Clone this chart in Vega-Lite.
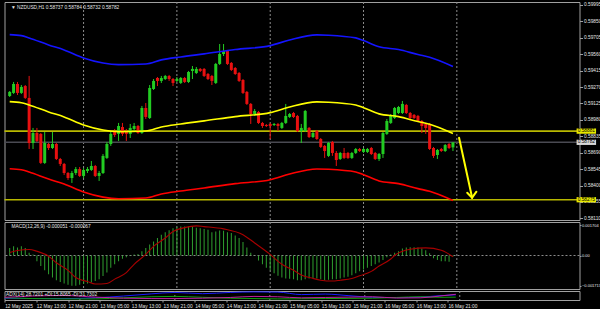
{
"$schema":"https://vega.github.io/schema/vega-lite/v6.json",
"background":"#000000",
"padding":{"left":1.5,"top":1,"right":0,"bottom":0},
"spacing":2,
"bounds":"flush",
"config":{"view":{"stroke":"#a0a0a0","strokeWidth":1},
"axis":{"labelFont":"Liberation Sans","labelFontSize":4.8,"labelColor":"#e6e6e6","tickColor":"#a0a0a0","domain":false,"grid":false,"title":null,"labelOverlap":false,"labelFlush":false,"labelBound":false,"tickCount":100},
"text":{"font":"Liberation Sans"}},
"datasets":{
"bars":[
{"h":5,"o":0.59191,"hi":0.59235,"lo":0.59182,"c":0.59227,"m":0.00043},
{"h":6,"o":0.59218,"hi":0.59315,"lo":0.59209,"c":0.59297,"m":0.00052},
{"h":7,"o":0.59297,"hi":0.59315,"lo":0.59200,"c":0.59218,"m":0.00046},
{"h":8,"o":0.59218,"hi":0.59288,"lo":0.59209,"c":0.59271,"m":0.00052},
{"h":9,"o":0.59279,"hi":0.59288,"lo":0.59165,"c":0.59174,"m":0.00043},
{"h":10,"o":0.59174,"hi":0.59368,"lo":0.58723,"c":0.58776,"m":0.00015},
{"h":11,"o":0.58776,"hi":0.58909,"lo":0.58723,"c":0.58864,"m":0.00006},
{"h":12,"o":0.58864,"hi":0.58909,"lo":0.58785,"c":0.58794,"m":-0.00032},
{"h":13,"o":0.58856,"hi":0.58864,"lo":0.58591,"c":0.58600,"m":-0.0006},
{"h":14,"o":0.58600,"hi":0.58873,"lo":0.58591,"c":0.58776,"m":-0.00084},
{"h":15,"o":0.58767,"hi":0.58776,"lo":0.58714,"c":0.58732,"m":-0.00106},
{"h":16,"o":0.58732,"hi":0.58873,"lo":0.58723,"c":0.58767,"m":-0.00125},
{"h":17,"o":0.58767,"hi":0.58776,"lo":0.58626,"c":0.58635,"m":-0.0014},
{"h":18,"o":0.58635,"hi":0.58644,"lo":0.58573,"c":0.58591,"m":-0.0015},
{"h":19,"o":0.58591,"hi":0.58600,"lo":0.58494,"c":0.58511,"m":-0.00159},
{"h":20,"o":0.58511,"hi":0.58520,"lo":0.58450,"c":0.58467,"m":-0.00166},
{"h":21,"o":0.58467,"hi":0.58529,"lo":0.58423,"c":0.58511,"m":-0.00172},
{"h":22,"o":0.58511,"hi":0.58564,"lo":0.58494,"c":0.58546,"m":-0.00172},
{"h":23,"o":0.58546,"hi":0.58564,"lo":0.58476,"c":0.58485,"m":-0.00166},
{"h":24,"o":0.58485,"hi":0.58555,"lo":0.58467,"c":0.58538,"m":-0.00162},
{"h":25,"o":0.58529,"hi":0.58564,"lo":0.58511,"c":0.58546,"m":-0.00159},
{"h":26,"o":0.58538,"hi":0.58617,"lo":0.58529,"c":0.58573,"m":-0.00153},
{"h":27,"o":0.58573,"hi":0.58582,"lo":0.58476,"c":0.58485,"m":-0.00144},
{"h":28,"o":0.58485,"hi":0.58529,"lo":0.58441,"c":0.58511,"m":-0.00134},
{"h":29,"o":0.58511,"hi":0.58679,"lo":0.58502,"c":0.58662,"m":-0.00116},
{"h":30,"o":0.58644,"hi":0.58785,"lo":0.58635,"c":0.58767,"m":-0.00097},
{"h":31,"o":0.58767,"hi":0.58873,"lo":0.58750,"c":0.58856,"m":-0.00069},
{"h":32,"o":0.58882,"hi":0.58900,"lo":0.58829,"c":0.58847,"m":-0.0005},
{"h":33,"o":0.58856,"hi":0.58953,"lo":0.58794,"c":0.58926,"m":-0.00032},
{"h":34,"o":0.58917,"hi":0.58953,"lo":0.58838,"c":0.58856,"m":-0.00019},
{"h":35,"o":0.58873,"hi":0.58900,"lo":0.58794,"c":0.58856,"m":-0.0001},
{"h":36,"o":0.58856,"hi":0.58944,"lo":0.58820,"c":0.58909,"m":-0.00003},
{"h":37,"o":0.58900,"hi":0.58953,"lo":0.58882,"c":0.58926,"m":0.00006},
{"h":38,"o":0.58926,"hi":0.58935,"lo":0.58856,"c":0.58864,"m":0.00009},
{"h":39,"o":0.58864,"hi":0.59103,"lo":0.58856,"c":0.59085,"m":0.00024},
{"h":40,"o":0.59085,"hi":0.59129,"lo":0.58988,"c":0.59006,"m":0.00043},
{"h":41,"o":0.58997,"hi":0.59288,"lo":0.58988,"c":0.59262,"m":0.00062},
{"h":42,"o":0.59253,"hi":0.59341,"lo":0.59244,"c":0.59324,"m":0.0008},
{"h":43,"o":0.59350,"hi":0.59359,"lo":0.59279,"c":0.59324,"m":0.00099},
{"h":44,"o":0.59324,"hi":0.59368,"lo":0.59306,"c":0.59350,"m":0.00118},
{"h":45,"o":0.59341,"hi":0.59377,"lo":0.59332,"c":0.59368,"m":0.00132},
{"h":46,"o":0.59368,"hi":0.59377,"lo":0.59324,"c":0.59341,"m":0.00143},
{"h":47,"o":0.59341,"hi":0.59350,"lo":0.59279,"c":0.59306,"m":0.00155},
{"h":48,"o":0.59324,"hi":0.59359,"lo":0.59315,"c":0.59341,"m":0.0016},
{"h":49,"o":0.59306,"hi":0.59359,"lo":0.59297,"c":0.59350,"m":0.00164},
{"h":50,"o":0.59350,"hi":0.59359,"lo":0.59306,"c":0.59315,"m":0.00164},
{"h":51,"o":0.59315,"hi":0.59412,"lo":0.59306,"c":0.59403,"m":0.00164},
{"h":52,"o":0.59412,"hi":0.59456,"lo":0.59341,"c":0.59430,"m":0.00164},
{"h":53,"o":0.59394,"hi":0.59447,"lo":0.59385,"c":0.59430,"m":0.00158},
{"h":54,"o":0.59430,"hi":0.59438,"lo":0.59403,"c":0.59412,"m":0.00155},
{"h":55,"o":0.59430,"hi":0.59438,"lo":0.59359,"c":0.59368,"m":0.00151},
{"h":56,"o":0.59385,"hi":0.59394,"lo":0.59332,"c":0.59341,"m":0.00146},
{"h":57,"o":0.59368,"hi":0.59377,"lo":0.59288,"c":0.59324,"m":0.00132},
{"h":58,"o":0.59306,"hi":0.59483,"lo":0.59297,"c":0.59474,"m":0.00136},
{"h":59,"o":0.59474,"hi":0.59650,"lo":0.59465,"c":0.59562,"m":0.00142},
{"h":60,"o":0.59562,"hi":0.59650,"lo":0.59544,"c":0.59589,"m":0.0014},
{"h":61,"o":0.59589,"hi":0.59597,"lo":0.59465,"c":0.59474,"m":0.00132},
{"h":62,"o":0.59483,"hi":0.59491,"lo":0.59412,"c":0.59421,"m":0.00127},
{"h":63,"o":0.59438,"hi":0.59447,"lo":0.59377,"c":0.59385,"m":0.00114},
{"h":64,"o":0.59394,"hi":0.59403,"lo":0.59315,"c":0.59324,"m":0.00099},
{"h":65,"o":0.59332,"hi":0.59341,"lo":0.59209,"c":0.59218,"m":0.00076},
{"h":66,"o":0.59227,"hi":0.59235,"lo":0.59112,"c":0.59121,"m":0.00046},
{"h":67,"o":0.59121,"hi":0.59129,"lo":0.58944,"c":0.59032,"m":0.00015},
{"h":68,"o":0.59032,"hi":0.59076,"lo":0.59015,"c":0.59059,"m":0.00002},
{"h":69,"o":0.59050,"hi":0.59059,"lo":0.58944,"c":0.58953,"m":-0.00028},
{"h":70,"o":0.58953,"hi":0.58962,"lo":0.58909,"c":0.58926,"m":-0.0005},
{"h":71,"o":0.58935,"hi":0.58944,"lo":0.58917,"c":0.58926,"m":-0.00069},
{"h":72,"o":0.58944,"hi":0.58953,"lo":0.58811,"c":0.58926,"m":-0.00084},
{"h":73,"o":0.58935,"hi":0.58953,"lo":0.58926,"c":0.58944,"m":-0.001},
{"h":74,"o":0.58944,"hi":0.58953,"lo":0.58882,"c":0.58926,"m":-0.00115},
{"h":75,"o":0.58909,"hi":0.58962,"lo":0.58900,"c":0.58953,"m":-0.00125},
{"h":76,"o":0.58953,"hi":0.59121,"lo":0.58944,"c":0.59015,"m":-0.0013},
{"h":77,"o":0.59006,"hi":0.59041,"lo":0.58997,"c":0.59032,"m":-0.00132},
{"h":78,"o":0.59041,"hi":0.59050,"lo":0.58997,"c":0.59006,"m":-0.00135},
{"h":79,"o":0.59015,"hi":0.59024,"lo":0.58873,"c":0.58882,"m":-0.0014},
{"h":80,"o":0.58882,"hi":0.58944,"lo":0.58776,"c":0.58909,"m":-0.0014},
{"h":81,"o":0.58882,"hi":0.59068,"lo":0.58873,"c":0.59059,"m":-0.00135},
{"h":82,"o":0.58909,"hi":0.58917,"lo":0.58820,"c":0.58829,"m":-0.0013},
{"h":83,"o":0.58829,"hi":0.58873,"lo":0.58820,"c":0.58864,"m":-0.00128},
{"h":84,"o":0.58882,"hi":0.58891,"lo":0.58803,"c":0.58811,"m":-0.0013},
{"h":85,"o":0.58811,"hi":0.58820,"lo":0.58732,"c":0.58741,"m":-0.00135},
{"h":86,"o":0.58750,"hi":0.58758,"lo":0.58644,"c":0.58705,"m":-0.0014},
{"h":87,"o":0.58662,"hi":0.58785,"lo":0.58653,"c":0.58776,"m":-0.00138},
{"h":88,"o":0.58785,"hi":0.58794,"lo":0.58662,"c":0.58688,"m":-0.00135},
{"h":89,"o":0.58688,"hi":0.58705,"lo":0.58573,"c":0.58626,"m":-0.00135},
{"h":90,"o":0.58635,"hi":0.58697,"lo":0.58626,"c":0.58688,"m":-0.0013},
{"h":91,"o":0.58688,"hi":0.58732,"lo":0.58635,"c":0.58644,"m":-0.00125},
{"h":92,"o":0.58688,"hi":0.58697,"lo":0.58635,"c":0.58644,"m":-0.0012},
{"h":93,"o":0.58644,"hi":0.58697,"lo":0.58635,"c":0.58688,"m":-0.00112},
{"h":94,"o":0.58688,"hi":0.58732,"lo":0.58679,"c":0.58723,"m":-0.001},
{"h":95,"o":0.58723,"hi":0.58732,"lo":0.58697,"c":0.58705,"m":-0.0009},
{"h":96,"o":0.58697,"hi":0.58732,"lo":0.58688,"c":0.58723,"m":-0.0008},
{"h":97,"o":0.58697,"hi":0.58732,"lo":0.58688,"c":0.58723,"m":-0.0007},
{"h":98,"o":0.58732,"hi":0.58741,"lo":0.58670,"c":0.58679,"m":-0.0006},
{"h":99,"o":0.58688,"hi":0.58697,"lo":0.58626,"c":0.58635,"m":-0.0005},
{"h":100,"o":0.58635,"hi":0.58688,"lo":0.58617,"c":0.58679,"m":-0.0004},
{"h":101,"o":0.58679,"hi":0.58873,"lo":0.58644,"c":0.58864,"m":-0.00025},
{"h":102,"o":0.58856,"hi":0.58988,"lo":0.58847,"c":0.58970,"m":-0.0001},
{"h":103,"o":0.58953,"hi":0.59032,"lo":0.58944,"c":0.59015,"m":0.00005},
{"h":104,"o":0.58997,"hi":0.59094,"lo":0.58988,"c":0.59085,"m":0.00015},
{"h":105,"o":0.59041,"hi":0.59103,"lo":0.59032,"c":0.59094,"m":0.00024},
{"h":106,"o":0.59041,"hi":0.59147,"lo":0.59032,"c":0.59121,"m":0.0004},
{"h":107,"o":0.59112,"hi":0.59121,"lo":0.59032,"c":0.59041,"m":0.00045},
{"h":108,"o":0.59041,"hi":0.59050,"lo":0.58988,"c":0.58997,"m":0.00047},
{"h":109,"o":0.59024,"hi":0.59032,"lo":0.58988,"c":0.58997,"m":0.00047},
{"h":110,"o":0.59015,"hi":0.59024,"lo":0.58962,"c":0.58970,"m":0.00045},
{"h":111,"o":0.58970,"hi":0.58979,"lo":0.58864,"c":0.58926,"m":0.0004},
{"h":112,"o":0.58944,"hi":0.58953,"lo":0.58856,"c":0.58909,"m":0.0003},
{"h":113,"o":0.58944,"hi":0.58953,"lo":0.58714,"c":0.58723,"m":0.00013},
{"h":114,"o":0.58732,"hi":0.58741,"lo":0.58644,"c":0.58662,"m":-0.00015},
{"h":115,"o":0.58670,"hi":0.58723,"lo":0.58635,"c":0.58714,"m":-0.00025},
{"h":116,"o":0.58723,"hi":0.58732,"lo":0.58697,"c":0.58705,"m":-0.00032},
{"h":117,"o":0.58705,"hi":0.58767,"lo":0.58697,"c":0.58758,"m":-0.00032},
{"h":118,"o":0.58767,"hi":0.58776,"lo":0.58723,"c":0.58732,"m":-0.00035},
{"h":119,"o":0.58737,"hi":0.58784,"lo":0.58705,"c":0.58782,"m":-0.00005}
],
"ma":[
{"h":5,"mid":0.59141,"up":0.59733,"lo":0.58549},
{"h":8,"mid":0.59132,"up":0.59724,"lo":0.58540},
{"h":10,"mid":0.59112,"up":0.59704,"lo":0.58520},
{"h":15,"mid":0.59050,"up":0.59642,"lo":0.58458},
{"h":19,"mid":0.59006,"up":0.59598,"lo":0.58414},
{"h":24,"mid":0.58935,"up":0.59527,"lo":0.58343},
{"h":29,"mid":0.58890,"up":0.59482,"lo":0.58298},
{"h":33,"mid":0.58876,"up":0.59468,"lo":0.58284},
{"h":40,"mid":0.58882,"up":0.59474,"lo":0.58290},
{"h":44,"mid":0.58918,"up":0.59510,"lo":0.58326},
{"h":49,"mid":0.58944,"up":0.59536,"lo":0.58352},
{"h":55,"mid":0.58971,"up":0.59563,"lo":0.58379},
{"h":63,"mid":0.59009,"up":0.59601,"lo":0.58417},
{"h":72,"mid":0.59044,"up":0.59636,"lo":0.58452},
{"h":77,"mid":0.59094,"up":0.59686,"lo":0.58502},
{"h":84,"mid":0.59139,"up":0.59731,"lo":0.58547},
{"h":87,"mid":0.59136,"up":0.59728,"lo":0.58544},
{"h":94,"mid":0.59112,"up":0.59704,"lo":0.58520},
{"h":96,"mid":0.59088,"up":0.59680,"lo":0.58496},
{"h":100,"mid":0.59033,"up":0.59625,"lo":0.58441},
{"h":105,"mid":0.59009,"up":0.59601,"lo":0.58417},
{"h":110,"mid":0.58965,"up":0.59557,"lo":0.58373},
{"h":113,"mid":0.58942,"up":0.59534,"lo":0.58350},
{"h":119,"mid":0.58860,"up":0.59452,"lo":0.58268}
],
"sig":[
{"h":5,"s":0.00017},{"h":7,"s":0.00028},{"h":10,"s":0.00034},{"h":12,"s":0.00024},{"h":15,"s":-0.00004},{"h":17,"s":-0.00041},{"h":20,"s":-0.00084},{"h":22,"s":-0.00125},{"h":25,"s":-0.00148},{"h":27,"s":-0.00162},{"h":30,"s":-0.00159},{"h":32,"s":-0.00134},{"h":35,"s":-0.00097},{"h":37,"s":-0.0005},{"h":40,"s":0.00006},{"h":42,"s":0.00052},{"h":45,"s":0.00099},{"h":47,"s":0.00136},{"h":50,"s":0.00158},{"h":53,"s":0.00168},{"h":55,"s":0.00164},{"h":60,"s":0.00151},{"h":65,"s":0.00118},{"h":68,"s":0.00071},{"h":72,"s":0.00006},{"h":75,"s":-0.0005},{"h":78,"s":-0.00084},{"h":80,"s":-0.0011},{"h":83,"s":-0.0013},{"h":85,"s":-0.0014},{"h":88,"s":-0.00145},{"h":90,"s":-0.0014},{"h":93,"s":-0.0013},{"h":95,"s":-0.00115},{"h":98,"s":-0.0009},{"h":100,"s":-0.0006},{"h":103,"s":-0.0002},{"h":104,"s":0.0},{"h":108,"s":0.00035},{"h":112,"s":0.00043},{"h":116,"s":0.0003},{"h":119,"s":-0.00007}
],
"adx":[
{"h":5,"a":10,"p":12,"n":15},{"h":12,"a":8,"p":8,"n":22},{"h":20,"a":8,"p":6,"n":25},{"h":28,"a":12,"p":6,"n":16},{"h":35,"a":22,"p":12,"n":10},{"h":42,"a":34,"p":18,"n":8},{"h":48,"a":42,"p":20,"n":8},{"h":55,"a":35,"p":15,"n":10},{"h":62,"a":42,"p":10,"n":14},{"h":68,"a":45,"p":8,"n":20},{"h":74,"a":44,"p":6,"n":18},{"h":80,"a":30,"p":7,"n":12},{"h":86,"a":33,"p":8,"n":14},{"h":92,"a":24,"p":9,"n":16},{"h":98,"a":15,"p":10,"n":18},{"h":104,"a":13,"p":14,"n":11},{"h":110,"a":16,"p":18,"n":12},{"h":115,"a":24,"p":15,"n":22},{"h":119,"a":28.7,"p":15.8,"n":31.7}
]
},
"vconcat":[
{"width":575,"height":218,
"layer":[
{"data":{"values":[{"s":24},{"s":48},{"s":72},{"s":96},{"s":120}]},"mark":{"type":"rule","strokeDash":[2,2],"color":"#8c8c8c","strokeWidth":1},
"encoding":{"x":{"field":"s","type":"quantitative","scale":{"domain":[4.95,150.26],"nice":false,"zero":false},"axis":null}}},
{"data":{"values":[{"p":0.58881},{"p":0.58275}]},"mark":{"type":"rule","color":"#b8b800","strokeWidth":1.6},
"encoding":{"y":{"field":"p","type":"quantitative","scale":{"domain":[0.58096,0.60021],"nice":false,"zero":false},
"axis":{"orient":"right","values":[0.59995,0.5985,0.59705,0.5956,0.59415,0.5927,0.59125,0.5898,0.58835,0.5869,0.58545,0.584,0.58255,0.5811],"tickCount":100,"format":".5f","tickSize":3,"labelPadding":1,"labelOverlap":false,"labelBound":false,"labelFlush":false}}}},
{"data":{"values":[{"p":0.58782}]},"mark":{"type":"rule","color":"#4a4a52","strokeWidth":1.6},
"encoding":{"y":{"field":"p","type":"quantitative"}}},
{"data":{"name":"bars"},"mark":{"type":"rule","strokeWidth":1},
"encoding":{"x":{"field":"h","type":"quantitative"},"y":{"field":"lo","type":"quantitative"},"y2":{"field":"hi"},
"color":{"condition":{"test":"datum.c >= datum.o","value":"#22cc22"},"value":"#e81010"}}},
{"data":{"name":"bars"},"mark":{"type":"bar","size":3},
"encoding":{"x":{"field":"h","type":"quantitative"},"y":{"field":"o","type":"quantitative"},"y2":{"field":"c"},
"color":{"condition":{"test":"datum.c >= datum.o","value":"#22cc22"},"value":"#e81010"}}},
{"data":{"name":"ma"},"mark":{"type":"line","color":"#1414ff","strokeWidth":1.6,"interpolate":"monotone"},
"encoding":{"x":{"field":"h","type":"quantitative"},"y":{"field":"up","type":"quantitative"}}},
{"data":{"name":"ma"},"mark":{"type":"line","color":"#ffff00","strokeWidth":1.6,"interpolate":"monotone"},
"encoding":{"x":{"field":"h","type":"quantitative"},"y":{"field":"mid","type":"quantitative"}}},
{"data":{"name":"ma"},"mark":{"type":"line","color":"#ff0000","strokeWidth":1.6,"interpolate":"monotone"},
"encoding":{"x":{"field":"h","type":"quantitative"},"y":{"field":"lo","type":"quantitative"}}},
{"data":{"values":[{"a":120.57,"b":0.58823,"a2":123.93,"b2":0.58293},{"a":122.67,"b":0.58337,"a2":123.93,"b2":0.58293},{"a":125.04,"b":0.58346,"a2":123.93,"b2":0.58293}]},
"mark":{"type":"rule","color":"#ffff00","strokeWidth":2,"strokeCap":"round"},
"encoding":{"x":{"field":"a","type":"quantitative"},"y":{"field":"b","type":"quantitative"},"x2":{"field":"a2"},"y2":{"field":"b2"}}},
{"data":{"values":[{"p":0.58881},{"p":0.58275}]},"mark":{"type":"point","shape":"M-1,-0.27L1,-0.27L1,0.27L-1,0.27Z","size":380,"filled":true,"color":"#e8e800","opacity":1,"clip":false},
"encoding":{"x":{"datum":153.3},"y":{"field":"p","type":"quantitative"}}},
{"data":{"values":[{"p":0.58782}]},"mark":{"type":"point","shape":"M-1,-0.27L1,-0.27L1,0.27L-1,0.27Z","size":380,"filled":true,"color":"#d8d8d8","opacity":1,"clip":false},
"encoding":{"x":{"datum":153.3},"y":{"field":"p","type":"quantitative"}}},
{"data":{"values":[{"p":0.58881},{"p":0.58275},{"p":0.58782}]},"mark":{"type":"text","fontSize":4.8,"color":"#000000","clip":false,"baseline":"middle","align":"center"},
"encoding":{"x":{"datum":153.3},"y":{"field":"p","type":"quantitative"},"text":{"field":"p","type":"quantitative","format":".5f"}}},
{"data":{"values":[{"t":"▼ NZDUSD,H1  0.58737 0.58784 0.58732 0.58782"}]},"mark":{"type":"text","fontSize":4.8,"color":"#e6e6e6","align":"left","baseline":"top","dx":1.5,"dy":2.5},
"encoding":{"x":{"datum":4.95},"y":{"datum":0.60021},"text":{"field":"t"}}}
]},
{"width":575,"height":67,
"layer":[
{"data":{"values":[{"s":24},{"s":48},{"s":72},{"s":96},{"s":120}]},"mark":{"type":"rule","strokeDash":[2,2],"color":"#8c8c8c","strokeWidth":1},
"encoding":{"x":{"field":"s","type":"quantitative","scale":{"domain":[4.95,150.26],"nice":false,"zero":false},"axis":null}}},
{"data":{"values":[{"z":0}]},"mark":{"type":"rule","strokeDash":[2,2],"color":"#8c8c8c","strokeWidth":1},
"encoding":{"y":{"field":"z","type":"quantitative","scale":{"domain":[-0.0019,0.0019],"nice":false,"zero":false},
"axis":{"orient":"right","values":[0.001704,0,-0.001713],"tickCount":100,"labelExpr":"datum.value == 0 ? '0.00' : format(datum.value, '.6f')","tickSize":1.5,"labelPadding":0.5,"labelFontSize":4,"labelOverlap":false,"labelBound":false,"labelFlush":false}}}},
{"data":{"name":"bars"},"mark":{"type":"bar","size":1,"color":"#2f9f2f"},
"encoding":{"x":{"field":"h","type":"quantitative"},"y":{"field":"m","type":"quantitative"},"y2":{"datum":0}}},
{"data":{"name":"sig"},"mark":{"type":"line","color":"#a80000","strokeWidth":1.1,"interpolate":"monotone"},
"encoding":{"x":{"field":"h","type":"quantitative"},"y":{"field":"s","type":"quantitative"}}},
{"data":{"values":[{"t":"MACD(12,26,9) -0.000051 -0.000067"}]},"mark":{"type":"text","fontSize":4.8,"color":"#e6e6e6","align":"left","baseline":"top","dx":2,"dy":2},
"encoding":{"x":{"datum":4.95},"y":{"datum":0.0019},"text":{"field":"t"}}}
]},
{"width":575,"height":9,
"layer":[
{"data":{"values":[{"s":24},{"s":48},{"s":72},{"s":96},{"s":120}]},"mark":{"type":"rule","strokeDash":[2,2],"color":"#8c8c8c","strokeWidth":1},
"encoding":{"x":{"field":"s","type":"quantitative","scale":{"domain":[4.95,150.26],"nice":false,"zero":false},
"axis":{"values":[5,13,21,29,37,45,53,61,69,77,85,93,101,109,117],"tickCount":100,
"labelExpr":"['12 May 2025','12 May 13:00','12 May 21:00','13 May 05:00','13 May 13:00','13 May 21:00','14 May 05:00','14 May 13:00','14 May 21:00','15 May 05:00','15 May 13:00','15 May 21:00','16 May 05:00','16 May 13:00','16 May 21:00'][round((datum.value-5)/8)]",
"labelAlign":"left","labelPadding":1.5,"tickSize":2,"labelOverlap":false,"labelBound":false,"labelFlush":false}}}},
{"data":{"name":"adx"},"mark":{"type":"line","color":"#1a1aff","strokeWidth":1,"interpolate":"monotone"},
"encoding":{"x":{"field":"h","type":"quantitative"},"y":{"field":"a","type":"quantitative","scale":{"domain":[0,50],"nice":false},"axis":null}}},
{"data":{"name":"adx"},"mark":{"type":"line","color":"#10a010","strokeWidth":1,"interpolate":"monotone"},
"encoding":{"x":{"field":"h","type":"quantitative"},"y":{"field":"p","type":"quantitative"}}},
{"data":{"name":"adx"},"mark":{"type":"line","color":"#c020a0","strokeWidth":1,"interpolate":"monotone"},
"encoding":{"x":{"field":"h","type":"quantitative"},"y":{"field":"n","type":"quantitative"}}},
{"data":{"values":[{"t":"ADX(14) 28.7201 +DI:15.8065 -DI:31.7302"}]},"mark":{"type":"text","fontSize":4.8,"color":"#e6e6e6","align":"left","baseline":"top","dx":1.5,"dy":1},
"encoding":{"x":{"datum":4.95},"y":{"datum":50},"text":{"field":"t"}}}
]}
]
}
